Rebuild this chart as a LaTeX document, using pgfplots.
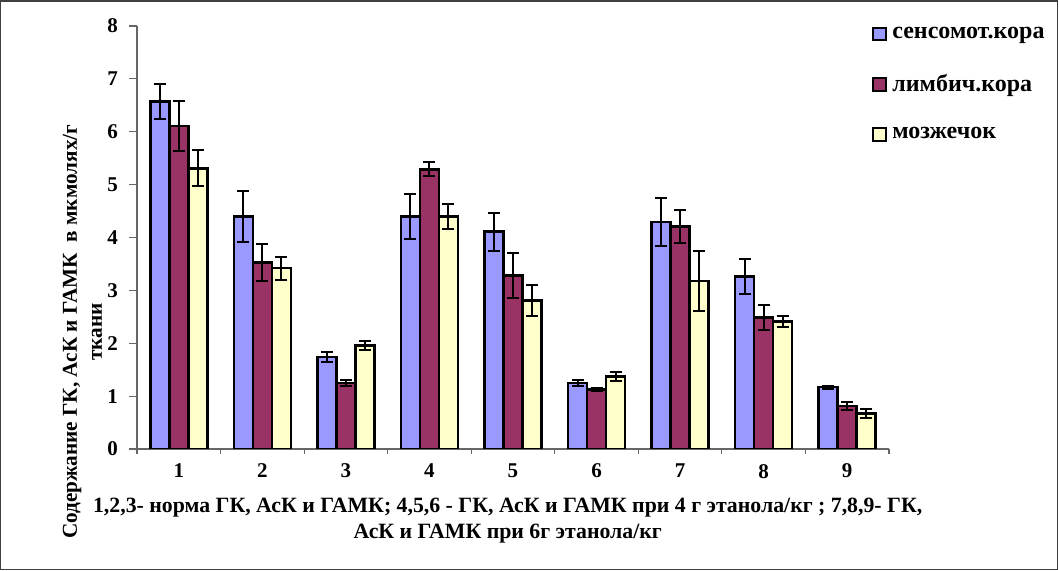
\documentclass[border=0pt]{standalone}
\usepackage{fontspec}
\setmainfont{Liberation Serif}
\usepackage{pgfplots}
\pgfplotsset{compat=1.18}
\definecolor{cblue}{HTML}{9999FF}
\definecolor{cpurp}{HTML}{993366}
\definecolor{cyel}{HTML}{FFFFCC}
\pgfplotsset{myerr/.style={error bars/.cd, y dir=both, y explicit,
  error bar style={black, line width=1pt},
  error mark options={rotate=90, mark size=3pt, black, line width=1pt}}}
\begin{document}
\begin{tikzpicture}
\useasboundingbox (0,0) rectangle (529.5pt,285.5pt);
\draw[black!75, line width=0.6pt] (0.4pt,0.6pt) rectangle (528.6pt,285pt);
\begin{axis}[
  at={(68.5pt,61pt)}, anchor=south west,
  scale only axis, width=376pt, height=211.5pt,
  ybar=0pt, bar width=9.5pt,
  xmin=0.5, xmax=9.5, ymin=0, ymax=8,
  axis x line*=bottom, axis y line*=left,
  axis line style={black!60, line width=0.6pt},
  xtick={1,...,9}, minor xtick={0.5,1.5,...,9.5},
  ytick={0,...,8},
  tick align=outside,
  tick style={black!60, line width=0.6pt},
  every major x tick/.append style={draw=none},
  major tick length=4pt, minor tick length=2.5pt,
  /pgf/number format/assume math mode=true,
  ticklabel style={font=\fontsize{10.5}{12}\selectfont\bfseries},
  yticklabel style={xshift=-2pt},
  xlabel={1,2,3- норма ГК, АсК и ГАМК; 4,5,6 - ГК, АсК и ГАМК при 4 г этанола/кг ; 7,8,9- ГК,\\АсК и ГАМК при 6г этанола/кг},
  xlabel style={at={(axis description cs:0.493,0)}, anchor=north, yshift=-21pt, align=center, font=\fontsize{10.9}{13}\selectfont\bfseries},
  ylabel={Содержание ГК, АсК и ГАМК\ \ в мкмолях/г\\ткани},
  ylabel style={at={(axis description cs:-0.0725,0.277)}, anchor=center, align=center, font=\fontsize{10.6}{12.5}\selectfont\bfseries},
  legend style={draw=none, fill=none, at={(axis description cs:0.969,1.018)}, anchor=north west, font=\fontsize{12}{14}\selectfont\bfseries, row sep=12.5pt, legend cell align=left},
  legend image code/.code={\draw[#1,/tikz/.cd,line width=1pt] (0pt,-3.2pt) rectangle (6.5pt,3.2pt); \path (7pt,0pt);},
]
\addplot[fill=cblue, draw=black, line width=1.3pt, myerr] coordinates {
 (1,6.57) +- (0,0.33) (2,4.40) +- (0,0.48) (3,1.74) +- (0,0.09)
 (4,4.40) +- (0,0.42) (5,4.11) +- (0,0.36) (6,1.25) +- (0,0.05)
 (7,4.29) +- (0,0.45) (8,3.26) +- (0,0.33) (9,1.17) +- (0,0.03)};
\addplot[fill=cpurp, draw=black, line width=1.3pt, myerr] coordinates {
 (1,6.11) +- (0,0.47) (2,3.53) +- (0,0.35) (3,1.25) +- (0,0.06)
 (4,5.29) +- (0,0.13) (5,3.28) +- (0,0.42) (6,1.12) +- (0,0.03)
 (7,4.21) +- (0,0.31) (8,2.49) +- (0,0.24) (9,0.81) +- (0,0.07)};
\addplot[fill=cyel, draw=black, line width=1.3pt, myerr] coordinates {
 (1,5.31) +- (0,0.34) (2,3.42) +- (0,0.22) (3,1.96) +- (0,0.08)
 (4,4.40) +- (0,0.24) (5,2.81) +- (0,0.30) (6,1.37) +- (0,0.08)
 (7,3.18) +- (0,0.57) (8,2.41) +- (0,0.10) (9,0.67) +- (0,0.09)};
\legend{сенсомот.кора, лимбич.кора, мозжечок}
\end{axis}
\end{tikzpicture}
\end{document}
